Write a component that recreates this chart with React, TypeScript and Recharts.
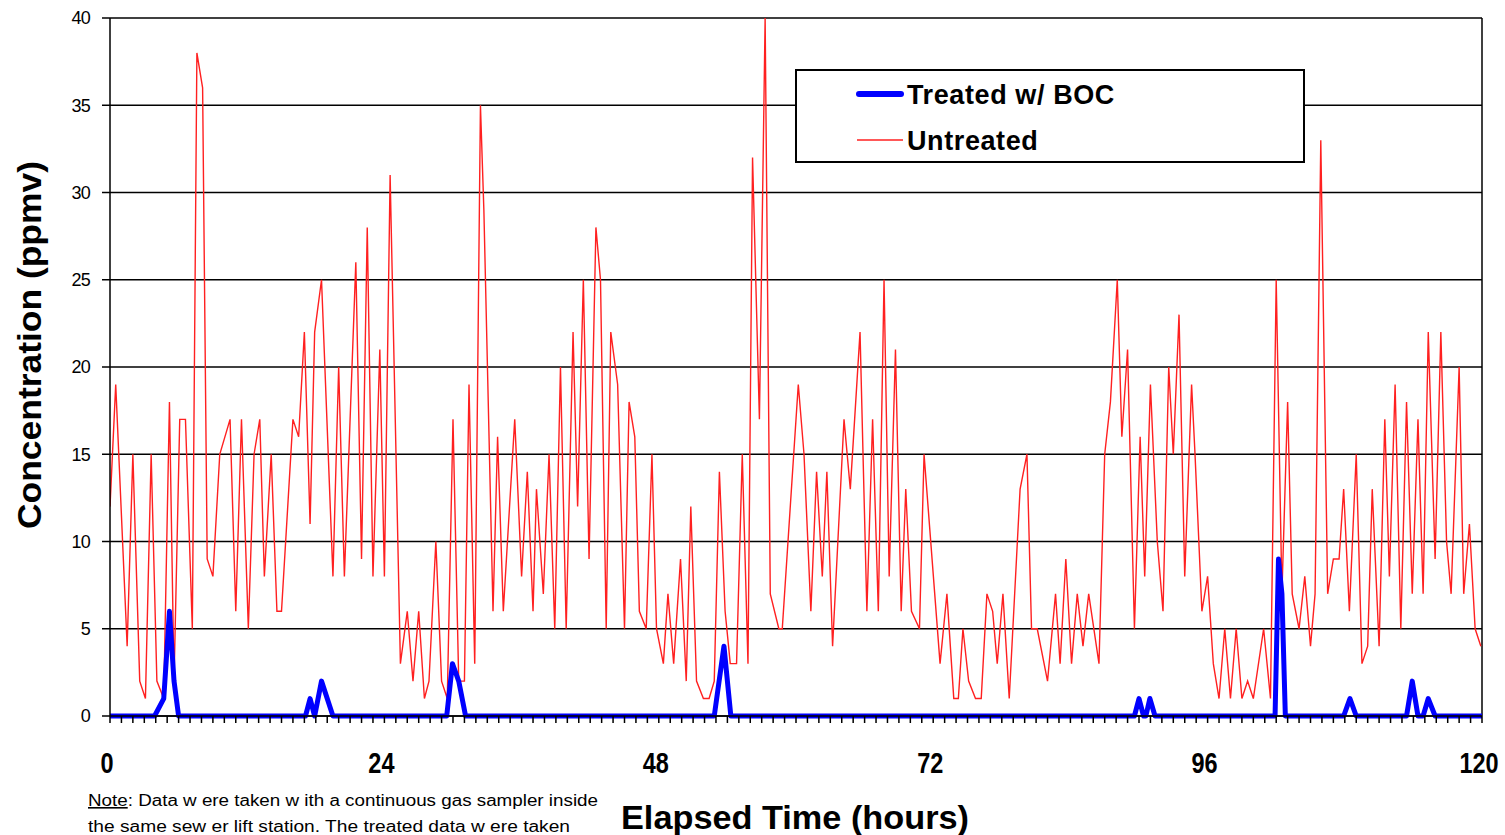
import { LineChart, Line, XAxis, YAxis, CartesianGrid, ReferenceLine } from "recharts";

// untreated gas sampler readings (hours, ppmv)
const UNTREATED_HOURS = [
  0, 0.5, 1.5, 2, 2.6, 3.1, 3.6, 4.1, 4.7, 5.2,
  5.6, 6.1, 6.6, 7.2, 7.6, 8.1, 8.5, 9, 9.6, 10.5,
  11, 11.5, 12.1, 12.6, 13.1, 13.5, 14.1, 14.6, 15, 16,
  16.5, 17, 17.5, 17.9, 18.5, 19.5, 20, 20.5, 21.5, 22,
  22.5, 23, 23.6, 24, 24.5, 25.4, 26, 26.5, 27, 27.5,
  27.9, 28.5, 29, 29.5, 30, 30.5, 31, 31.4, 31.9, 32.4,
  32.7, 33.5, 33.9, 34.4, 35.4, 36, 36.5, 37, 37.3, 37.9,
  38.4, 38.9, 39.4, 39.9, 40.5, 40.9, 41.4, 41.9, 42.5, 42.9,
  43.4, 43.8, 44.4, 45, 45.4, 45.9, 46.3, 46.9, 47.4, 47.8,
  48.4, 48.8, 49.3, 49.9, 50.4, 50.8, 51.3, 51.9, 52.4, 52.85,
  53.3, 53.8, 54.25, 54.8, 55.3, 55.8, 56.2, 56.8, 57.3, 57.75,
  58.5, 58.8, 60.2, 60.7, 61.3, 61.8, 62.3, 62.7, 63.2, 64.2,
  64.75, 65.6, 66.2, 66.7, 67.2, 67.7, 68.15, 68.7, 69.2, 69.6,
  70.1, 70.8, 71.2, 72.6, 73.2, 73.8, 74.2, 74.6, 75.1, 75.7,
  76.2, 76.7, 77.2, 77.6, 78.1, 78.65, 79.6, 80.2, 80.6, 81.1,
  82, 82.7, 83.1, 83.6, 84.1, 84.6, 85.1, 85.6, 86.5, 87,
  87.5, 88.1, 88.5, 89, 89.6, 90.1, 90.5, 91, 91.6, 92.1,
  92.6, 93, 93.5, 94, 94.6, 94.9, 95.5, 96, 96.5, 97,
  97.5, 98, 98.5, 99, 99.5, 100, 100.9, 101.5, 102, 102.5,
  103, 103.4, 104, 104.5, 105, 105.4, 105.9, 106.5, 107, 107.5,
  107.9, 108.4, 109, 109.5, 110, 110.4, 111, 111.5, 111.9, 112.4,
  112.9, 113.4, 113.9, 114.4, 114.85, 115.3, 115.9, 116.4, 116.9, 117.3,
  118, 118.4, 118.9, 119.4, 119.9,
];
const UNTREATED_PPMV = [
  12, 19, 4, 15, 2, 1, 15, 2, 1, 18,
  2, 17, 17, 5, 38, 36, 9, 8, 15, 17,
  6, 17, 5, 15, 17, 8, 15, 6, 6, 17,
  16, 22, 11, 22, 25, 8, 20, 8, 26, 9,
  28, 8, 21, 8, 31, 3, 6, 2, 6, 1,
  2, 10, 2, 1, 17, 2, 2, 19, 3, 35,
  29, 6, 16, 6, 17, 8, 14, 6, 13, 7,
  15, 5, 20, 5, 22, 12, 25, 9, 28, 25,
  5, 22, 19, 5, 18, 16, 6, 5, 15, 5,
  3, 7, 3, 9, 2, 12, 2, 1, 1, 2,
  14, 6, 3, 3, 15, 3, 32, 17, 40, 7,
  5, 5, 19, 15, 6, 14, 8, 14, 4, 17,
  13, 22, 6, 17, 6, 25, 8, 21, 6, 13,
  6, 5, 15, 3, 7, 1, 1, 5, 2, 1,
  1, 7, 6, 3, 7, 1, 13, 15, 5, 5,
  2, 7, 3, 9, 3, 7, 4, 7, 3, 15,
  18, 25, 16, 21, 5, 16, 8, 19, 10, 6,
  20, 15, 23, 8, 19, 15, 6, 8, 3, 1,
  5, 1, 5, 1, 2, 1, 5, 1, 25, 7,
  18, 7, 5, 8, 4, 7, 33, 7, 9, 9,
  13, 6, 15, 3, 4, 13, 4, 17, 8, 19,
  5, 18, 7, 17, 7, 22, 9, 22, 10, 7,
  20, 7, 11, 5, 4,
];

// treated w/ BOC
const TREATED_HOURS = [
  0, 3.9, 4.7, 5.2, 5.6, 6, 17.1, 17.5, 17.9, 18.5, 19.5,
  29.45, 29.95, 30.5, 31.1, 52.85, 53.7, 54.3,
  89.6, 90, 90.4, 90.6, 90.95, 91.4,
  101.9, 102.2, 102.5, 102.8, 107.9, 108.45, 109,
  113.4, 113.9, 114.4, 114.85, 115.3, 115.9, 120,
];
const TREATED_PPMV = [
  0, 0, 1, 6, 2, 0, 0, 1, 0, 2, 0,
  0, 3, 2, 0, 0, 4, 0,
  0, 1, 0, 0, 1, 0,
  0, 9, 7, 0, 0, 1, 0,
  0, 2, 0, 0, 1, 0, 0,
];

const X_TICKS = Array.from({ length: 121 }, (_, i) => i);
const X_LABELS = [0, 24, 48, 72, 96, 120];
const Y_TICKS = [0, 5, 10, 15, 20, 25, 30, 35, 40];

const untreated = UNTREATED_HOURS.map((t, i) => ({ t, ppmv: UNTREATED_PPMV[i] }));
const treated = TREATED_HOURS.map((t, i) => ({ t, ppmv: TREATED_PPMV[i] }));

const SANS = "'Liberation Sans', Arial, sans-serif";

function HourTick({ x, payload }: any) {
  if (!X_LABELS.includes(payload.value)) return <g />;
  // squeeze the bold digits horizontally, like the narrow face in the original
  return (
    <text
      transform={`translate(${x - 3}, 773) scale(0.81, 1)`}
      textAnchor="middle"
      fontFamily={SANS}
      fontWeight={700}
      fontSize={29}
      fill="#000"
    >
      {payload.value}
    </text>
  );
}

function BottomText() {
  return (
    <g>
      <text x={795} y={829} textAnchor="middle" fontFamily={SANS} fontWeight={700} fontSize={33} fill="#000" textLength={348} lengthAdjust="spacingAndGlyphs">
        Elapsed Time (hours)
      </text>
      <text x={88} y={806} fontFamily={SANS} fontSize={16} fill="#000" textLength={510} lengthAdjust="spacingAndGlyphs">
        <tspan textDecoration="underline">Note</tspan>: Data w ere taken w ith a continuous gas sampler inside
      </text>
      <text x={88} y={832} fontFamily={SANS} fontSize={16} fill="#000" textLength={482} lengthAdjust="spacingAndGlyphs">
        the same sew er lift station.  The treated data w ere taken
      </text>
    </g>
  );
}

function YTitle() {
  return (
    <text
      x={41}
      y={345}
      transform="rotate(-90, 41, 345)"
      textAnchor="middle"
      fontFamily={SANS}
      fontWeight={700}
      fontSize={33}
      fill="#000"
      textLength={368}
      lengthAdjust="spacingAndGlyphs"
    >
      Concentration (ppmv)
    </text>
  );
}

function LegendBox() {
  return (
    <svg width={510} height={94} style={{ display: "block" }}>
      <rect x={1} y={1} width={508} height={92} fill="#fff" stroke="#000" strokeWidth={2} />
      <line x1={64} y1={25} x2={106} y2={25} stroke="#0000ff" strokeWidth={6} strokeLinecap="round" />
      <text x={112} y={35} fontFamily={SANS} fontWeight={700} fontSize={27} letterSpacing={0.6} fill="#000">
        Treated w/ BOC
      </text>
      <line x1={62} y1={71} x2={108} y2={71} stroke="#ff2020" strokeWidth={1.5} />
      <text x={112} y={81} fontFamily={SANS} fontWeight={700} fontSize={27} letterSpacing={0.6} fill="#000">
        Untreated
      </text>
    </svg>
  );
}

export default function App() {
  return (
    <div style={{ position: "absolute", left: 0, top: 0, width: 1505, height: 835, background: "#fff" }}>
      <LineChart width={1505} height={835} margin={{ top: 18, right: 23, bottom: 0, left: 0 }}>
        <CartesianGrid vertical={false} stroke="#000" strokeWidth={1.5} />
        <XAxis
          type="number"
          dataKey="t"
          domain={[0, 120]}
          ticks={X_TICKS}
          interval={0}
          height={119}
          tick={<HourTick />}
          tickSize={7}
          tickLine={{ stroke: "#000", strokeWidth: 1.5 }}
          axisLine={{ stroke: "#000", strokeWidth: 1.5 }}
          allowDataOverflow
          label={BottomText}
        />
        <YAxis
          type="number"
          domain={[0, 40]}
          ticks={Y_TICKS}
          interval={0}
          width={110}
          tickSize={8}
          tickMargin={12}
          tick={{ fontSize: 18, fill: "#000", fontFamily: SANS, letterSpacing: -0.8 }}
          tickLine={{ stroke: "#000", strokeWidth: 1.5 }}
          axisLine={{ stroke: "#000", strokeWidth: 1.5 }}
          label={YTitle}
        />
        <ReferenceLine x={120} stroke="#000" strokeWidth={1.5} />
        <Line
          data={untreated}
          dataKey="ppmv"
          name="Untreated"
          stroke="#ff2020"
          strokeWidth={1.4}
          dot={false}
          activeDot={false}
          isAnimationActive={false}
        />
        <Line
          data={treated}
          dataKey="ppmv"
          name="Treated w/ BOC"
          stroke="#0000ff"
          strokeWidth={5}
          strokeLinejoin="round"
          dot={false}
          activeDot={false}
          isAnimationActive={false}
        />
      </LineChart>
      <div style={{ position: "absolute", left: 795, top: 69 }}>
        <LegendBox />
      </div>
    </div>
  );
}
